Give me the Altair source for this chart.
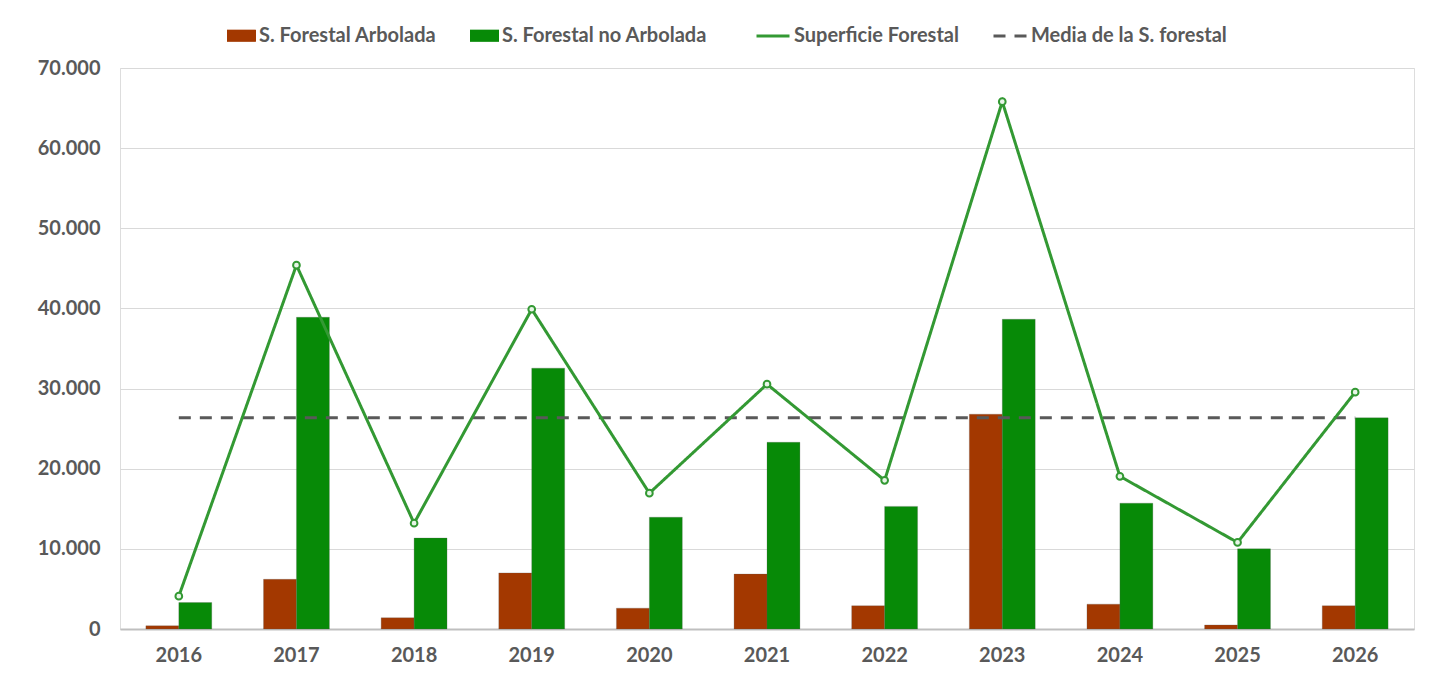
import altair as alt
import pandas as pd

years = ["2016", "2017", "2018", "2019", "2020", "2021", "2022", "2023", "2024", "2025", "2026"]
arbolada = [400, 6200, 1400, 7000, 2600, 6850, 2900, 26800, 3100, 500, 2900]
no_arbolada = [3300, 38900, 11350, 32550, 13950, 23300, 15300, 38650, 15700, 10000, 26350]
superficie = [4100, 45400, 13200, 39900, 16950, 30550, 18550, 65800, 19050, 10800, 29550]
media = 26350

S1 = "S. Forestal Arbolada"
S2 = "S. Forestal no Arbolada"
S3 = "Superficie Forestal"
S4 = "Media de la S. forestal"
bar_colors = ["#A33800", "#078A07"]
line_colors = ["#339933", "#595959"]

bars = pd.DataFrame(
    [{"year": y, "serie": S1, "value": v} for y, v in zip(years, arbolada)]
    + [{"year": y, "serie": S2, "value": v} for y, v in zip(years, no_arbolada)]
)
line_df = pd.DataFrame({"year": years, "serie": S3, "value": superficie})
mean_df = pd.DataFrame({"year": years, "serie": S4, "value": [media] * len(years)})

FONT = "Lato"
GRAY = "#595959"

legend_common = dict(
    title=None,
    orient="none",
    direction="horizontal",
    labelFont=FONT,
    labelFontSize=20,
    labelFontWeight="bold",
    labelColor=GRAY,
    labelLimit=0,
    labelOffset=3,
    padding=0,
)

fill_enc = alt.Fill(
    "serie:N",
    scale=alt.Scale(domain=[S1, S2], range=bar_colors),
    legend=alt.Legend(
        legendX=107,
        legendY=-47,
        symbolType="M-1,-0.42H1V0.42H-1Z",
        symbolSize=841,
        symbolStrokeWidth=0,
        columnPadding=33,
        **legend_common,
    ),
)

stroke_legend = alt.Legend(
    legendX=635,
    legendY=-50,
    symbolType="M-1,0H1",
    symbolSize=1089,
    symbolStrokeWidth=3,
    columnPadding=28,
    **legend_common,
)
stroke_enc = alt.Stroke(
    "serie:N",
    scale=alt.Scale(domain=[S3, S4], range=line_colors),
    legend=stroke_legend,
)
dash_enc = alt.StrokeDash(
    "serie:N",
    scale=alt.Scale(domain=[S3, S4], range=[[1, 0], [12, 9]]),
    legend=stroke_legend,
)

x = alt.X(
    "year:N",
    sort=years,
    title=None,
    scale=alt.Scale(paddingInner=0.44, paddingOuter=0.22),
    axis=alt.Axis(
        labelAngle=0,
        labelFont=FONT,
        labelFontSize=20,
        labelFontWeight="bold",
        labelColor=GRAY,
        labelPadding=16,
        ticks=False,
        domain=True,
        domainColor="#BFBFBF",
        domainWidth=2,
        grid=False,
    ),
)
y = alt.Y(
    "value:Q",
    title=None,
    scale=alt.Scale(domain=[0, 70000], nice=False),
    axis=alt.Axis(
        values=[0, 10000, 20000, 30000, 40000, 50000, 60000, 70000],
        labelExpr="replace(format(datum.value, ','), ',', '.')",
        labelFont=FONT,
        labelFontSize=20,
        labelFontWeight="bold",
        labelColor=GRAY,
        labelPadding=20,
        ticks=False,
        domain=False,
        grid=True,
        gridColor="#D9D9D9",
        gridWidth=1,
    ),
)

bar_layer = alt.Chart(bars).mark_bar(stroke="#5A5A5A", strokeOpacity=0.25, strokeWidth=1).encode(
    x=x,
    y=y,
    xOffset=alt.XOffset("serie:N", sort=[S1, S2], scale=alt.Scale(domain=[S1, S2], paddingInner=0, paddingOuter=0)),
    fill=fill_enc,
)

mean_layer = alt.Chart(mean_df).mark_line(strokeWidth=3).encode(
    x=x, y=y, stroke=stroke_enc, strokeDash=dash_enc
)

line_layer = alt.Chart(line_df).mark_line(strokeWidth=3).encode(
    x=x, y=y, stroke=stroke_enc, strokeDash=dash_enc
)

point_layer = alt.Chart(line_df).mark_point(filled=False, fill="#E8F5E8", size=45, strokeWidth=2, opacity=1).encode(
    x=x, y=y, stroke=alt.Stroke("serie:N", scale=alt.Scale(domain=[S3, S4], range=line_colors), legend=None)
)

chart = (
    alt.layer(bar_layer, mean_layer, line_layer, point_layer)
    .properties(
        width=1294,
        height=561,
        autosize=alt.AutoSizeParams(type="none"),
        padding={"left": 112, "top": 60, "right": 34, "bottom": 51},
    )
    .configure_view(stroke="#666666", strokeWidth=1)
    .configure(background="white")
)

chart.save("out.html", embed_options={"renderer": "svg", "actions": False})
